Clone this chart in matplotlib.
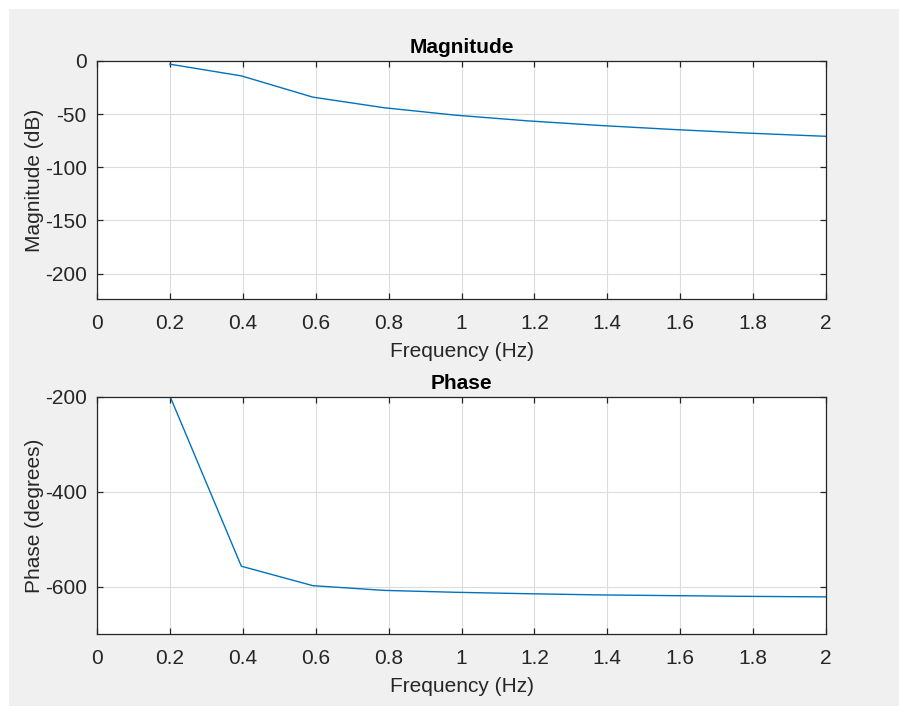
import matplotlib
matplotlib.use("Agg")
import matplotlib.pyplot as plt
from matplotlib.patches import Rectangle

# Frequency response samples
freq_hz = [0.2, 0.396, 0.592, 0.788, 0.984, 1.18, 1.376, 1.572, 1.768, 1.964, 2.16]
magnitude_db = [-3.0, -14.0, -34.0, -44.0, -51.0, -56.3, -60.6, -64.3, -67.6, -70.4, -73.0]
phase_deg = [-198.0, -557.0, -598.0, -608.0, -612.0, -615.0, -617.5, -619.0, -620.5, -621.5, -622.5]

x_ticks = [0, 0.2, 0.4, 0.6, 0.8, 1, 1.2, 1.4, 1.6, 1.8, 2]
x_ticklabels = ["0", "0.2", "0.4", "0.6", "0.8", "1", "1.2", "1.4", "1.6", "1.8", "2"]
mag_ticks = [0, -50, -100, -150, -200]
phase_ticks = [-200, -400, -600]

plt.rcParams["font.family"] = ["Liberation Sans", "DejaVu Sans"]

W, H = 899, 708
fig = plt.figure(figsize=(W / 100, H / 100), dpi=100, facecolor="white")
# grey window background inside a thin white border
fig.patches.append(Rectangle((9 / W, 2 / H), 1 - 9 / W, (H - 11) / H,
                             transform=fig.transFigure, facecolor="#f0f0f0",
                             edgecolor="none", zorder=-10))

line_color = "#0072BD"
axis_color = "#262626"
fs = 15


def style_axes(ax, ylim, yticks, title, ylabel):
    ax.set_facecolor("white")
    ax.set_xlim(0, 2)
    ax.set_ylim(*ylim)
    ax.set_xticks(x_ticks)
    ax.set_xticklabels(x_ticklabels)
    ax.set_yticks(yticks)
    ax.set_yticklabels([str(v) for v in yticks])
    ax.grid(True, color="#dcdcdc", linewidth=0.8)
    ax.set_axisbelow(True)
    for s in ax.spines.values():
        s.set_color(axis_color)
        s.set_linewidth(0.9)
    ax.tick_params(direction="in", length=4, width=0.9, color=axis_color,
                   top=True, right=True, labelsize=fs, labelcolor=axis_color)
    ax.tick_params(axis="x", pad=10.8)
    ax.tick_params(axis="y", pad=7.4)
    ax.set_title(title, fontsize=fs, fontweight="bold", color="black", pad=5.7)
    ax.set_xlabel("Frequency (Hz)", fontsize=fs, color=axis_color, labelpad=6.3)
    ax.set_ylabel(ylabel, fontsize=fs, color=axis_color, labelpad=0.5)


ax1 = fig.add_axes([97 / W, 1 - 299 / H, 729 / W, 238 / H])
ax1.plot(freq_hz, magnitude_db, color=line_color, linewidth=1.0)
style_axes(ax1, (-224, 0), mag_ticks, "Magnitude", "Magnitude (dB)")

ax2 = fig.add_axes([97 / W, 1 - 634 / H, 729 / W, 237 / H])
ax2.plot(freq_hz, phase_deg, color=line_color, linewidth=1.0)
style_axes(ax2, (-700, -200), phase_ticks, "Phase", "Phase (degrees)")

fig.savefig("out.png", dpi=100, facecolor=fig.get_facecolor())
